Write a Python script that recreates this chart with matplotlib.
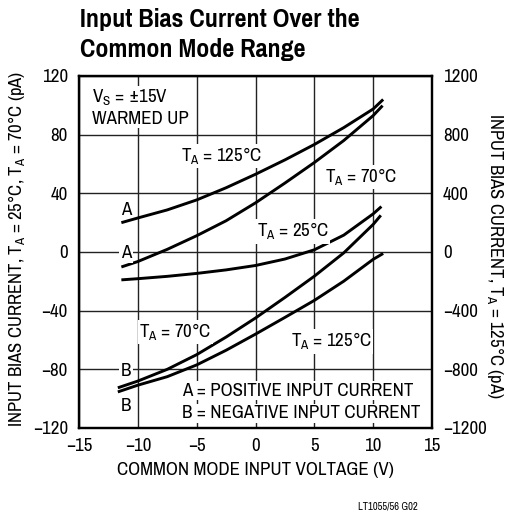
import numpy as np
import matplotlib
matplotlib.use("Agg")
import matplotlib.pyplot as plt
from matplotlib import font_manager as fm
from matplotlib.textpath import TextPath
from matplotlib.font_manager import FontProperties

# pick a narrow sans close to Helvetica Condensed; measured against the reference
# ("A = POSITIVE INPUT CURRENT" is ~230 px wide, caps ~13 px high)
names = set(f.name for f in fm.fontManager.ttflist)


def text_w(s, fp):
    return TextPath((0, 0), s, size=1, prop=fp).get_extents().width


def cap_h(fp):
    return TextPath((0, 0), 'H', size=1, prop=fp).get_extents().height


candidates = ['Pragati Narrow', 'Roboto Condensed', 'Archivo Narrow', 'Liberation Sans Narrow',
              'Nimbus Sans Narrow', 'Arial Narrow', 'Barlow Semi Condensed', 'IBM Plex Sans Condensed',
              'PT Sans Narrow', 'Liberation Sans']
target = 230 / 13.0
family = 'Liberation Sans'
best = None
for name in candidates:
    if name not in names:
        continue
    fp = FontProperties(family=name)
    r = text_w('A = POSITIVE INPUT CURRENT', fp) / cap_h(fp)
    if abs(r / target - 1) < 0.08:
        family = name
        break
    if best is None or abs(r / target - 1) < best[0]:
        best = (abs(r / target - 1), name)
else:
    if best:
        family = best[1]

plt.rcParams['font.family'] = [family, 'DejaVu Sans']
plt.rcParams['mathtext.fontset'] = 'custom'
plt.rcParams['mathtext.rm'] = family
plt.rcParams['axes.unicode_minus'] = True

fp = FontProperties(family=family)
fs = 230 * 0.72 / text_w('A = POSITIVE INPUT CURRENT', fp)
fpb = FontProperties(family=family, weight='bold')
fs_title = 277 * 0.72 / text_w('Input Bias Current Over the', fpb)
fs_ylab = 358 * 0.72 / text_w('INPUT BIAS CURRENT, TA = 25°C, TA = 70°C (pA)', fp)

# curves (x in V)
# left axis (pA): 25°C and 70°C
x_25a = [-11.4, -10, -7.5, -5, -2.5, 0, 2.5, 5, 7.5, 10, 10.7]
y_25a = [-19.0, -18.2, -16.6, -14.6, -12.2, -9.2, -4.8, 1.5, 11.5, 26.0, 31.0]

x_70a = [-11.4, -10, -7.5, -5, -2.5, 0, 2.5, 5, 7.5, 10, 10.8]
y_70a = [-10.2, -6.5, 1.8, 11.1, 21.3, 33.5, 47.0, 61.0, 76.0, 93.0, 99.8]

x_70b = [-11.7, -10, -7.5, -5, -2.5, 0, 2.5, 5, 7.5, 10, 10.65]
y_70b = [-92.6, -88.0, -80.0, -70.0, -58.0, -45.0, -31.0, -16.5, -0.6, 18.8, 25.0]

# right axis (pA): 125°C
x_125a = [-11.4, -10, -7.5, -5, -2.5, 0, 2.5, 5, 7.5, 10, 10.85]
y_125a = [200, 232, 287, 355, 438, 530, 628, 733, 848, 975, 1040]

x_125b = [-11.7, -10, -7.5, -5, -2.5, 0, 2.5, 5, 7.5, 10, 10.85]
y_125b = [-954, -908, -850, -770, -670, -560, -446, -330, -199, -50, -10]

x_ticks = [-15, -10, -5, 0, 5, 10, 15]
left_ticks = [-120, -80, -40, 0, 40, 80, 120]
right_ticks = [-1200, -800, -400, 0, 400, 800, 1200]

fig = plt.figure(figsize=(5.05, 5.12), dpi=100)
ax = fig.add_axes([79 / 505, 1 - 428 / 512, 353 / 505, 352 / 512])
ax2 = ax.twinx()

lw = 2.1
ax.plot(x_25a, y_25a, color='black', lw=lw, solid_capstyle='butt', zorder=3)
ax.plot(x_70a, y_70a, color='black', lw=lw, solid_capstyle='butt', zorder=3)
ax.plot(x_70b, y_70b, color='black', lw=lw, solid_capstyle='butt', zorder=3)
ax2.plot(x_125a, y_125a, color='black', lw=lw, solid_capstyle='butt')
ax2.plot(x_125b, y_125b, color='black', lw=lw, solid_capstyle='butt')

ax.set_xlim(-15, 15)
ax.set_ylim(-120, 120)
ax2.set_ylim(-1200, 1200)
ax.set_xticks(x_ticks)
ax.set_yticks(left_ticks)
ax2.set_yticks(right_ticks)
ax.grid(True, color='#222222', lw=1.0)
ax.set_axisbelow(True)
for a in (ax, ax2):
    a.tick_params(length=0, labelsize=fs, pad=8)
    for s in a.spines.values():
        s.set_linewidth(1.6)
ax.tick_params(axis='x', pad=7)

ax.set_xlabel('COMMON MODE INPUT VOLTAGE (V)', fontsize=fs, labelpad=6)

fig.text(17 / 505, 1 - 249 / 512,
         r'INPUT BIAS CURRENT, T$_\mathregular{A}$ = 25°C, T$_\mathregular{A}$ = 70°C (pA)',
         rotation=90, ha='center', va='center', fontsize=fs_ylab)
fig.text(495 / 505, 1 - 256 / 512,
         r'INPUT BIAS CURRENT, T$_\mathregular{A}$ = 125°C (pA)',
         rotation=270, ha='center', va='center', fontsize=fs_ylab)

box = dict(facecolor='white', edgecolor='none', pad=1.0)
ax.text(-13.92, 101.8, r'V$_\mathregular{S}$ = ±15V', fontsize=fs, va='baseline', bbox=box, zorder=4)
ax.text(-13.92, 87.5, 'WARMED UP', fontsize=fs, va='baseline', bbox=box, zorder=4)
ax.text(-6.36, 62.0, r'T$_\mathregular{A}$ = 125°C', fontsize=fs, va='baseline', bbox=box, zorder=4)
ax.text(5.9, 47.7, r'T$_\mathregular{A}$ = 70°C', fontsize=fs, va='baseline', bbox=box, zorder=4)
ax.text(0.1, 10.4, r'T$_\mathregular{A}$ = 25°C', fontsize=fs, va='baseline', bbox=box, zorder=4)
ax.text(-11.0, 25.0, 'A', fontsize=fs, ha='center', va='baseline', bbox=box, zorder=4)
ax.text(-11.0, -4.3, 'A', fontsize=fs, ha='center', va='baseline', bbox=box, zorder=4)
ax.text(-9.9, -58.2, r'T$_\mathregular{A}$ = 70°C', fontsize=fs, va='baseline', bbox=box, zorder=4)
ax.text(-11.0, -84.3, 'B', fontsize=fs, ha='center', va='baseline', bbox=box, zorder=4)
ax.text(-11.0, -108.4, 'B', fontsize=fs, ha='center', va='baseline', bbox=box, zorder=4)
ax.text(3.0, -64.6, r'T$_\mathregular{A}$ = 125°C', fontsize=fs, va='baseline', bbox=box, zorder=4)
ax.text(-6.22, -98.0, 'A = POSITIVE INPUT CURRENT', fontsize=fs, va='baseline', bbox=box, zorder=4)
ax.text(-6.22, -113.4, 'B = NEGATIVE INPUT CURRENT', fontsize=fs, va='baseline', bbox=box, zorder=4)

fig.text(80 / 505, 1 - 26.7 / 512, 'Input Bias Current Over the', fontsize=fs_title,
         fontweight='bold', va='baseline')
fig.text(80 / 505, 1 - 56.7 / 512, 'Common Mode Range', fontsize=fs_title,
         fontweight='bold', va='baseline')
fig.text(358 / 505, 1 - 509 / 512, 'LT1055/56 G02', fontsize=fs * 0.56, va='baseline')

fig.savefig('out.png', dpi=100)
